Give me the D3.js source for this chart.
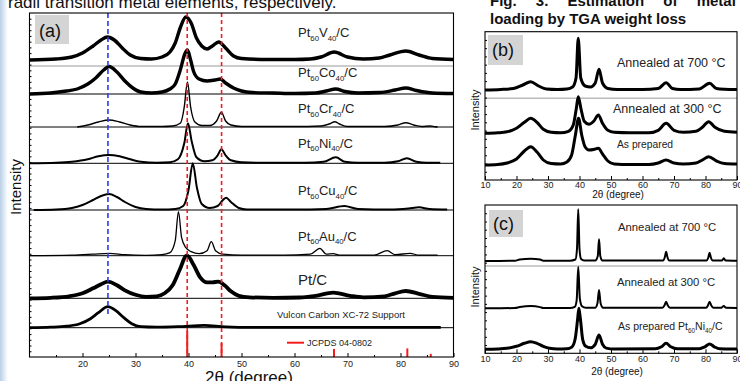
<!DOCTYPE html>
<html><head><meta charset="utf-8">
<script src="https://cdn.jsdelivr.net/npm/d3@7"></script>
<style>
body{margin:0;background:#fff}
svg{display:block}
text{font-family:"Liberation Sans",Arial,Helvetica,sans-serif}
</style>
</head><body>
<svg id="chart" width="740" height="381"></svg>
<script>
// ---------------- DATA ----------------
// Panel (a): XRD patterns, [2theta (deg), relative intensity (a.u.)]
const labelsA = ["Pt_60V_40/C","Pt_60Co_40/C","Pt_60Cr_40/C","Pt_60Ni_40/C","Pt_60Cu_40/C","Pt_60Au_40/C","Pt/C","Vulcon Carbon XC-72 Support"];
const ptV40 = [[10,0],[15,1],[18,3],[20,7],[22,14],[23.5,20],[24.7,23],[26,20],[27.5,12],[29,5],[31,1.5],[33,1],[35,3],[36.5,8],[37.5,17],[38.5,33],[39.5,43],[40.5,37],[41.5,22],[42.5,14],[43.5,11],[44.5,14],[45.7,18],[47,12],[48.5,4],[50,1.5],[55,0.5],[60,0.5],[63,1],[65,3],[67.5,8],[70,3],[73,1],[76,2],[78,5],[81,9],[83.5,5],[86,1.5],[90,0.5]];
const ptCo40 = [[10,0],[14,1],[17,3],[19,5],[21,10],[22.5,16],[24,24],[25,27.5],[26.5,22],[28,13],[29.5,6],[31,2],[33,1],[35,2],[36.5,5],[37.5,10],[38.5,25],[39.3,40],[39.8,44],[40.4,34],[41,22],[42,15],[43.5,13],[45,14],[46,15],[47,11],[48.5,6],[50,3],[52,1.5],[56,1],[60,0.5],[64,1],[66,3],[67.8,5],[69.5,2.5],[72,1],[76,1.5],[79,4],[81,6],[83,3.5],[86,1],[90,0.5]];
const ptCr40 = [[19,0],[21,2],[23,5],[25,7],[27,5],[29,2],[31,0.5],[35,0.5],[37,1],[38.5,4],[39.2,20],[39.8,45],[40.4,20],[41.2,5],[42.5,1.5],[44,1.5],[45.3,6],[46.2,14.7],[47,6],[48,2],[50,0.5],[60,0.5],[65,1],[66.8,3.5],[67.6,5.3],[68.5,3],[70,0.5],[77,0.5],[79.5,2],[81,4.3],[82.5,2],[84,0.5],[85.6,1],[86.5,0.3],[87,0]];
const ptNi40 = [[10,0],[15,0.5],[18,1.5],[21,4],[23,7],[25,8.3],[27,7],[29,4],[31,1.5],[34,0.5],[36.5,1],[38,4],[39.2,20],[39.9,40],[40.6,22],[41.5,6],[43,2],[44.5,3],[45.5,8],[46.2,14],[47,8],[48,3],[50,1],[55,0.5],[62,0.5],[65.5,1.5],[67.8,6],[69.5,1.5],[72,0.5],[77,0.5],[79.5,2],[81.2,5],[83,1.5],[85,0.5],[87.5,0.5]];
const ptCu40 = [[10.8,0],[15,0.5],[18,2],[20,5],[22,10],[23.5,14],[25,16],[26.5,13],[28,8],[30,3],[32,1],[35,0.5],[37.5,1],[39,4],[40,20],[40.8,46.7],[41.6,22],[42.5,6],[44,2],[45.5,4],[46.5,10],[47.1,12.3],[48,8],[49.5,2],[51,0.5],[60,0.5],[66,1],[69.4,4],[72,1],[78,0.5],[81.5,1.5],[83.5,2.7],[85.5,1],[88.8,0.5]];
const ptAu40 = [[10,0],[18,0.5],[22,1.5],[25,2.4],[28,1],[32,0.3],[35,1],[36.5,3],[37.5,15],[38.1,44],[38.7,18],[39.5,8],[40.5,4],[42,2],[43.5,5],[44.3,14],[45.1,5],[46.5,1.5],[50,0.5],[58,0.5],[63,1.5],[64.8,7.4],[66,1.5],[67.3,2],[68.5,0.5],[75,0.5],[77.5,5],[79,1],[81.8,2.4],[83.5,0.5],[87,0.5]];
const ptC = [[10,0],[14,0.5],[17.5,2],[20,5],[22,10],[23.5,14],[24.8,16.6],[26.5,13],[28,8],[30,3.5],[32,1.5],[34,2],[35.5,5],[37,13],[38.3,28],[39.7,43],[41,33],[42.2,21],[43.5,16],[44.5,16],[45.6,16.6],[46.8,13],[48,7],[49.5,2.5],[51.5,1],[56,0.5],[61,0.8],[64,2.5],[67.3,5.6],[70.5,2.5],[73,1],[77,2],[79,5],[81,7.3],[83.5,4.5],[86,1.5],[90,0.5]];
const vulcanC = [[10,0],[14,0.5],[17,1.5],[19.5,4],[21.5,9],[23,15],[24.8,21],[26.3,17],[27.8,10],[29.3,4],[31,1],[34,0.5],[38,1],[43,2.4],[47,0.8],[52,0.3],[60,0.3],[70,0.3],[80,0.3],[87.6,0.3]];
const seriesA = [ptV40, ptCo40, ptCr40, ptNi40, ptCu40, ptAu40, ptC, vulcanC];

// reference lines and JCPDS 04-0802 (Pt) stick pattern
const carbonPeak = 24.8;
const ptRefPeaks = [39.76, 46.24];
const jcpdsAngles = [39.76, 46.24, 67.45, 81.29, 85.71];
const jcpdsIntensity = [100, 53, 31, 33, 12];
const jcpdsLabel = "JCPDS 04-0802";

// Panel (b)
const labelsB = ["Annealed at 700 °C", "Annealed at 300 °C", "As prepared"];
const b700 = [[10,0],[15,0.5],[19,1.5],[22,5],[24.5,8.3],[27,4],[29.5,1],[33,0.5],[36,1],[37.8,3],[38.9,12],[39.6,51.7],[40.4,12],[41.8,4],[43.5,3],[45,7],[46.2,20.7],[47.3,7],[49,1.5],[52,0.5],[60,0.5],[65,1.5],[67.5,7.3],[69.5,1.5],[72,0.5],[78,1],[81.3,6.7],[83.5,1.5],[86,0.8],[90,0.5]];
const b300 = [[10,0],[14,0.5],[17,1.5],[20,5],[22.5,11],[24.5,15],[26.5,11],[28.5,4],[31,1],[34,0.5],[36.5,2],[38,8],[39,25],[39.6,36.6],[40.5,24],[41.5,12],[43,9],[44.5,12],[46,18.3],[47.3,10],[49,3],[51,1],[56,0.5],[62,0.5],[65,3],[67.5,10],[70,3],[73,1],[77,2],[79,6],[81,11.6],[83,6],[86,2],[90,1]];
const bPrep = [[10,0],[14,0.5],[17,2],[20,6],[22.5,14],[24.5,18.3],[26.5,13],[28.5,5],[31,1.5],[34,1],[36,3],[37.5,10],[38.7,30],[39.7,46.7],[40.7,30],[41.8,18],[43,15],[44.5,15.5],[46,16.7],[47.3,11],[49,4],[51,1],[56,0.5],[62,0.5],[65,2],[67.5,5],[70,2],[73,1],[77,2],[79,5],[81,8.3],[83.5,4],[86,1.5],[90,1]];
const seriesB = [b700, b300, bPrep];

// Panel (c)
const labelsC = ["Annealed at 700 °C", "Annealed at 300 °C", "As prepared Pt_60Ni_40/C"];
const c700 = [[10,0],[19.5,0.3],[21,1.5],[24.5,2.2],[27.5,1.5],[28.5,0.3],[37,0.3],[38.7,1.5],[39.2,12],[39.6,51.7],[40,12],[40.5,2],[41.5,0.5],[45,0.5],[45.8,5],[46.2,21.7],[46.6,5],[47.3,0.5],[66.5,0.5],[67.1,4],[67.5,9.3],[67.9,4],[68.5,0.5],[80.3,0.5],[80.9,3.5],[81.3,8.3],[81.7,3.5],[82.3,0.5],[85.2,0.5],[85.8,2.7],[86.4,0.5],[90,0.3]];
const c300 = [[10,0],[12,0],[19.5,0.3],[21,1.2],[24.5,2.3],[27.5,1.2],[28.5,0.3],[37,0.3],[38.5,1.5],[39.1,8],[39.6,41.3],[40.1,10],[40.8,2],[42,0.5],[45,0.6],[45.7,5],[46.2,18.3],[46.7,5],[47.5,0.5],[66.3,0.5],[67,3],[67.5,6.6],[68,3],[68.7,0.5],[80.2,0.5],[80.8,3],[81.3,6.6],[81.8,3],[82.5,0.5],[85,0.5],[85.8,2.3],[86.5,0.5],[90,0.3]];
const cPrep = [[10,0],[14,0.3],[17,1],[20,3],[22.5,6],[24.5,7.6],[26.5,6],[28.5,3],[30.5,1],[33,0.3],[36,0.5],[37.5,2],[38.6,10],[39.4,30],[39.8,41],[40.3,30],[41,10],[42,3],[43.5,1.5],[45,5],[46.2,14.3],[47.3,5],[48.5,1.2],[51,0.3],[64,0.5],[66,2.5],[67.5,6],[69,2.5],[71,0.5],[78,0.5],[79.8,2.5],[81.3,5.3],[82.8,2.5],[84.5,0.5],[88,0.3],[90,0.3]];
const seriesC = [c700, c300, cPrep];

const xTicksA = [20,30,40,50,60,70,80,90];
const xTicksBC = [10,20,30,40,50,60,70,80,90];
const xLabel = "2θ (degree)";
const yLabel = "Intensity";
const pageText = "radii transition metal elements, respectively.";
const figTitle1 = "Fig. 3. Estimation of metal";
const figTitle2 = "loading by TGA weight loss";

// ---------------- LAYOUT ----------------
const svg = d3.select("#chart");
const FONT = '"Liberation Sans",Arial,sans-serif';
const RED = "#f21c1c";
const defs = svg.append("defs");
const grad = defs.append("linearGradient").attr("id","edge").attr("x1",0).attr("x2",1).attr("y1",0).attr("y2",0);
grad.append("stop").attr("offset",0).attr("stop-color","#b9cfe6");
grad.append("stop").attr("offset",0.5).attr("stop-color","#dde8f4");
grad.append("stop").attr("offset",1).attr("stop-color","#ffffff");
svg.append("rect").attr("x",0).attr("y",0).attr("width",8).attr("height",381).attr("fill","url(#edge)");

svg.append("text").attr("x",8).attr("y",8).attr("font-size",17).attr("fill","#111").text(pageText);
svg.append("text").attr("x",490).attr("y",6).attr("font-size",15).attr("font-weight","bold")
   .attr("word-spacing",15).attr("fill","#111").text(figTitle1);
svg.append("text").attr("x",490).attr("y",24).attr("font-size",15).attr("font-weight","bold")
   .attr("fill","#111").text(figTitle2);

function richText(g, str, x, y, size, subSize, anchor) {
  const t = g.append("text").attr("x",x).attr("y",y).attr("font-size",size).attr("fill","#222");
  if (anchor) t.attr("text-anchor",anchor);
  const parts = str.split(/_(\d+)/);
  let shifted = false;
  parts.forEach((p,i) => {
    if (!p) return;
    const ts = t.append("tspan").text(p);
    if (i % 2 === 1) { ts.attr("font-size",subSize).attr("dy", shifted ? 0 : size*0.28); shifted = true; }
    else if (shifted) { ts.attr("dy", -size*0.28); shifted = false; }
  });
  return t;
}

function line(x, y) {
  return d3.line().x(d => x(d[0])).y(d => y(d[1])).curve(d3.curveMonotoneX);
}

function frameAxes(g, x, top, bottom, ticks, minor, leftCount, tickFont, labelPad) {
  const left = x.range()[0], right = x.range()[1];
  const ax = g.append("g").attr("transform",`translate(0,${bottom})`)
    .call(d3.axisBottom(x).tickValues(ticks).tickSizeInner(-4).tickSizeOuter(0).tickPadding(labelPad));
  ax.select(".domain").remove();
  ax.selectAll("text").attr("font-size",tickFont).attr("font-family",FONT).attr("fill","#222");
  const mx = g.append("g").attr("transform",`translate(0,${bottom})`)
    .call(d3.axisBottom(x).tickValues(minor).tickSizeInner(-2).tickSizeOuter(0).tickFormat(""));
  mx.select(".domain").remove();
  const ly = d3.scaleLinear().domain([0,leftCount]).range([bottom, top]);
  const la = g.append("g").attr("transform",`translate(${left},0)`)
    .call(d3.axisLeft(ly).tickValues(d3.range(1,leftCount)).tickSizeInner(-2).tickSizeOuter(0).tickFormat(""));
  la.select(".domain").remove();
  g.append("rect").attr("x",left).attr("y",top).attr("width",right-left).attr("height",bottom-top)
    .attr("fill","none").attr("stroke","#000").attr("stroke-width",1.1);
}

function panelTag(g, txt, x0, y0, w, h, tx, ty) {
  g.append("rect").attr("x",x0).attr("y",y0).attr("width",w).attr("height",h).attr("fill","#d4d4d4");
  g.append("text").attr("x",tx).attr("y",ty).attr("font-size",18).attr("fill","#111").text(txt);
}

// ---------- Panel (a) ----------
const gA = svg.append("g");
const xA = d3.scaleLinear().domain([10,90]).range([29.5,453.5]);
const topA = 13, botA = 357;
const baseA = [60, 94, 127, 163.3, 210, 255.7, 298.3, 327.7];
const widthA = [3.4, 3.4, 1.4, 2, 2, 1.3, 3.8, 2.8];
const labelPosA = [[298,37.3,13],[298,77.3,13],[298,113.3,13],[298,147.7,13],[298,195,13],[298,240.7,13],[298,285,15],[277,318.3,9.5]];

// band lines
gA.append("line").attr("x1",xA(10)).attr("x2",xA(90)).attr("y1",66).attr("y2",66).attr("stroke","#bbb").attr("stroke-width",1.5);
baseA.slice(1).forEach(b => gA.append("line").attr("x1",xA(10)).attr("x2",xA(90)).attr("y1",b).attr("y2",b).attr("stroke","#000").attr("stroke-width",1));

seriesA.forEach((s,i) => {
  const y = d3.scaleLinear().domain([0,50]).range([baseA[i], baseA[i]-50]);
  gA.append("path").datum(s).attr("d", line(xA,y)).attr("fill","none").attr("stroke","#000")
    .attr("stroke-width",widthA[i]).attr("stroke-linejoin","round");
  const lp = labelPosA[i];
  richText(gA, labelsA[i], lp[0], lp[1], lp[2], lp[2]*0.6);
});

// JCPDS sticks
const yJ = d3.scaleLinear().domain([0,100]).range([botA, botA-26]);
gA.selectAll("line.jc").data(jcpdsAngles).enter().append("line")
  .attr("x1",d=>xA(d)).attr("x2",d=>xA(d)).attr("y1",botA).attr("y2",(d,i)=>yJ(jcpdsIntensity[i]))
  .attr("stroke",RED).attr("stroke-width",2);
gA.append("line").attr("x1",287).attr("x2",304).attr("y1",342.7).attr("y2",342.7).attr("stroke",RED).attr("stroke-width",2);
gA.append("text").attr("x",307).attr("y",346).attr("font-size",9).attr("fill","#222").text(jcpdsLabel);

// reference dashed lines
gA.append("line").attr("x1",xA(carbonPeak)).attr("x2",xA(carbonPeak)).attr("y1",topA).attr("y2",315)
  .attr("stroke","#2a3cf0").attr("stroke-width",1.6).attr("stroke-dasharray","5,3");
ptRefPeaks.forEach(p => gA.append("line").attr("x1",xA(p)).attr("x2",xA(p)).attr("y1",topA).attr("y2",botA)
  .attr("stroke",RED).attr("stroke-width",1.6).attr("stroke-dasharray","4,3"));

frameAxes(gA, xA, topA, botA, xTicksA, d3.range(15,90,10), 60, 9, 4);
panelTag(gA, "(a)", 35, 15, 34, 29, 39, 37);
gA.append("text").attr("x",249).attr("y",383).attr("text-anchor","middle").attr("font-size",17).attr("fill","#111").text(xLabel);
gA.append("text").attr("transform","translate(21,187) rotate(-90)").attr("text-anchor","middle").attr("font-size",15).attr("fill","#111").text(yLabel);

// ---------- Panel (b) ----------
const gB = svg.append("g");
const xB = d3.scaleLinear().domain([10,90]).range([485,737]);
const topB = 31.7, botB = 180;
const baseB = [90, 133.3, 165];
const labelPosB = [[617,66.7,12.5],[613,113.3,12.5],[617,148.3,10.3]];
gB.append("line").attr("x1",xB(10)).attr("x2",xB(90)).attr("y1",98.3).attr("y2",98.3).attr("stroke","#bbb").attr("stroke-width",1.6);
seriesB.forEach((s,i) => {
  const y = d3.scaleLinear().domain([0,50]).range([baseB[i], baseB[i]-50]);
  gB.append("path").datum(s).attr("d", line(xB,y)).attr("fill","none").attr("stroke","#000")
    .attr("stroke-width",3).attr("stroke-linejoin","round");
  const lp = labelPosB[i];
  richText(gB, labelsB[i], lp[0], lp[1], lp[2], lp[2]*0.6);
});
frameAxes(gB, xB, topB, botB, xTicksBC, d3.range(15,90,10), 18, 9, 2);
panelTag(gB, "(b)", 488, 35, 35, 30, 492, 56);
gB.append("text").attr("x",618).attr("y",198).attr("text-anchor","middle").attr("font-size",10).attr("fill","#111").text(xLabel);
gB.append("text").attr("transform","translate(479,110) rotate(-90)").attr("text-anchor","middle").attr("font-size",11).attr("fill","#111").text(yLabel);

// ---------- Panel (c) ----------
const gC = svg.append("g");
const xC = d3.scaleLinear().domain([10,90]).range([485,737]);
const topC = 205, botC = 353.3;
const baseC = [261, 308.3, 349.3];
const widthC = [2, 2, 3];
const labelPosC = [[618,231,11.3],[617,286,11.3],[618,330,10.5]];
gC.append("line").attr("x1",xC(10)).attr("x2",xC(90)).attr("y1",266).attr("y2",266).attr("stroke","#bbb").attr("stroke-width",1.6);
seriesC.forEach((s,i) => {
  const y = d3.scaleLinear().domain([0,50]).range([baseC[i], baseC[i]-50]);
  gC.append("path").datum(s).attr("d", line(xC,y)).attr("fill","none").attr("stroke","#000")
    .attr("stroke-width",widthC[i]).attr("stroke-linejoin","round");
  const lp = labelPosC[i];
  richText(gC, labelsC[i], lp[0], lp[1], lp[2], lp[2]*0.6);
});
frameAxes(gC, xC, topC, botC, xTicksBC, d3.range(15,90,10), 18, 9, 2);
panelTag(gC, "(c)", 489, 210, 34, 27, 493, 230);
gC.append("text").attr("x",617).attr("y",375).attr("text-anchor","middle").attr("font-size",10).attr("fill","#111").text(xLabel);
gC.append("text").attr("transform","translate(479,287) rotate(-90)").attr("text-anchor","middle").attr("font-size",11).attr("fill","#111").text(yLabel);
</script>
</body></html>
